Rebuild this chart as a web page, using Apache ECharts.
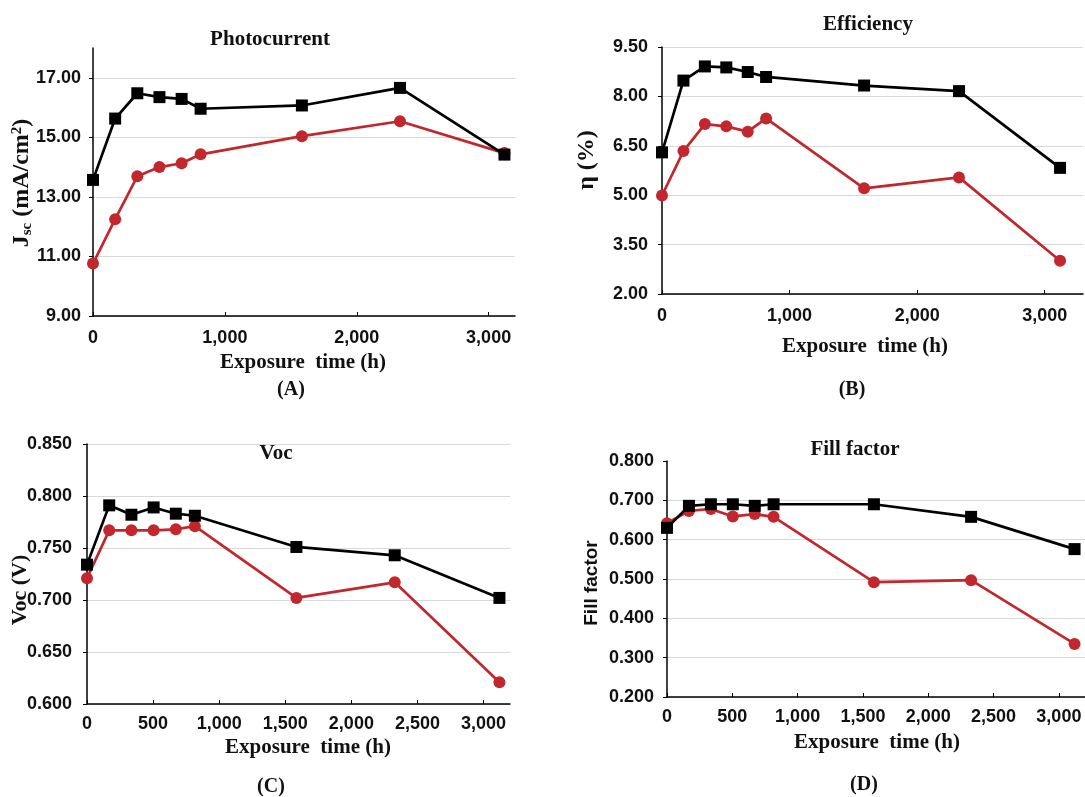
<!DOCTYPE html>
<html>
<head>
<meta charset="utf-8">
<script src="https://cdn.jsdelivr.net/npm/echarts@6/dist/echarts.min.js"></script>
<style>
html,body{margin:0;padding:0;background:#fff;}
#main{width:1085px;height:797px;}
</style>
</head>
<body>
<div id="main"></div>
<script>
// Exposure time (h)
const hours = [0, 168, 336, 504, 672, 816, 1584, 2328, 3120];

// (A) Photocurrent Jsc (mA/cm2)
const jscBlack = [13.57, 15.63, 16.48, 16.35, 16.29, 15.96, 16.07, 16.66, 14.42];
const jscRed   = [10.76, 12.25, 13.69, 14.00, 14.13, 14.43, 15.04, 15.54, 14.47];

// (B) Efficiency eta (%)
const effBlack = [6.30, 8.48, 8.91, 8.88, 8.74, 8.59, 8.33, 8.16, 5.83];
const effRed   = [4.99, 6.34, 7.16, 7.09, 6.93, 7.33, 5.21, 5.54, 3.01];

// (C) Voc (V)
const vocBlack = [0.734, 0.791, 0.782, 0.789, 0.783, 0.781, 0.751, 0.743, 0.702];
const vocRed   = [0.721, 0.767, 0.767, 0.767, 0.768, 0.771, 0.702, 0.717, 0.621];

// (D) Fill factor
const ffBlack = [0.630, 0.686, 0.690, 0.690, 0.686, 0.690, 0.690, 0.658, 0.576];
const ffRed   = [0.642, 0.673, 0.678, 0.659, 0.665, 0.658, 0.492, 0.497, 0.335];

const titles = ['Photocurrent', 'Efficiency', 'Voc', 'Fill factor'];
const panelLabels = ['(A)', '(B)', '(C)', '(D)'];
const xName = 'Exposure  time (h)';

const RED = '#c1272d';
const BLACK = '#000000';
const SERIF = '"Liberation Serif", "Times New Roman", serif';
const SANS = '"Liberation Sans", Arial, sans-serif';

function pairs(xs, ys) { return xs.map((x, i) => [x, ys[i]]); }
function fmtThousands(v) { return v.toLocaleString('en-US'); }

const grids = [
  {left: 93, top: 48, width: 422, height: 268},
  {left: 662, top: 47, width: 421, height: 247},
  {left: 87, top: 444, width: 423, height: 260},
  {left: 667, top: 461, width: 419, height: 236}
];

const xCfg = [
  {max: 3200, interval: 1000, margin: 13},
  {max: 3300, interval: 1000, margin: 13},
  {max: 3200, interval: 500, margin: 11},
  {max: 3200, interval: 500, margin: 11}
];
const yCfg = [
  {min: 9, max: 18, interval: 2, dec: 2, showMaxLine: false, showMaxLabel: false, margin: 12},
  {min: 2, max: 9.5, interval: 1.5, dec: 2, showMaxLine: true, showMaxLabel: true, margin: 14},
  {min: 0.6, max: 0.85, interval: 0.05, dec: 3, showMaxLine: true, showMaxLabel: true, margin: 15},
  {min: 0.2, max: 0.8, interval: 0.1, dec: 3, showMaxLine: false, showMaxLabel: true, margin: 13}
];

const xAxes = xCfg.map((c, i) => ({
  type: 'value', gridIndex: i, min: 0, max: c.max, interval: c.interval,
  axisLine: {show: true, onZero: false, lineStyle: {color: '#000', width: 1.5}},
  axisTick: {show: true, inside: true, length: 4, lineStyle: {color: '#000', width: 1}},
  splitLine: {show: false},
  axisLabel: {
    show: true, margin: c.margin, showMaxLabel: false,
    fontFamily: SANS, fontWeight: 'bold', fontSize: 18, color: '#111',
    formatter: v => fmtThousands(v)
  }
}));

const yAxes = yCfg.map((c, i) => ({
  type: 'value', gridIndex: i, min: c.min, max: c.max, interval: c.interval,
  axisLine: {show: true, lineStyle: {color: '#000', width: 1.5}},
  axisTick: {show: true, inside: false, length: 4, lineStyle: {color: '#000', width: 1}},
  splitLine: {show: true, showMaxLine: c.showMaxLine, lineStyle: {color: '#d9d9d9', width: 1.2}},
  axisLabel: {
    show: true, margin: c.margin, showMaxLabel: c.showMaxLabel,
    fontFamily: SANS, fontWeight: 'bold', fontSize: 18, color: '#111',
    formatter: v => v.toFixed(c.dec)
  }
}));

const sets = [
  [jscRed, jscBlack], [effRed, effBlack], [vocRed, vocBlack], [ffRed, ffBlack]
];
const series = [];
sets.forEach((s, i) => {
  series.push({
    type: 'line', xAxisIndex: i, yAxisIndex: i, data: pairs(hours, s[0]),
    symbol: 'circle', symbolSize: 12, lineStyle: {color: RED, width: 2.7},
    itemStyle: {color: RED}, animation: false, z: 2
  });
  series.push({
    type: 'line', xAxisIndex: i, yAxisIndex: i, data: pairs(hours, s[1]),
    symbol: 'rect', symbolSize: 12, lineStyle: {color: BLACK, width: 2.7},
    itemStyle: {color: BLACK}, animation: false, z: 3
  });
});

function txt(text, x, y, font, extra) {
  return Object.assign({
    type: 'text', x: x, y: y, silent: true,
    style: {text: text, font: font, fill: '#111', align: 'center', verticalAlign: 'middle'}
  }, extra || {});
}

const titlePos = [[270, 40], [868, 25], [276, 454], [855, 450]];
const xNamePos = [[303, 363], [865, 347], [308, 748], [877, 743]];
const labelPos = [[291, 390], [852, 390], [271, 787], [864, 785]];

const graphics = [];
titles.forEach((t, i) => graphics.push(txt(t, titlePos[i][0], titlePos[i][1], 'bold 21px ' + SERIF)));
xNamePos.forEach(p => graphics.push(txt(xName, p[0], p[1], 'bold 21px ' + SERIF)));
panelLabels.forEach((t, i) => graphics.push(txt(t, labelPos[i][0], labelPos[i][1], 'bold 20px ' + SERIF)));

// Y-axis names (rotated)
graphics.push({
  type: 'text', x: 22, y: 183, rotation: Math.PI / 2, silent: true,
  style: {
    text: '{a|J}{s|sc}{a| (mA/cm}{p|2}{a|)}',
    align: 'center', verticalAlign: 'middle', fill: '#111',
    rich: {
      a: {font: 'bold 24px ' + SERIF, fill: '#111'},
      s: {font: 'bold 15px ' + SERIF, fill: '#111', padding: [10, 0, 0, 0]},
      p: {font: 'bold 15px ' + SERIF, fill: '#111', padding: [0, 0, 10, 0]}
    }
  }
});
graphics.push(txt('η (%)', 587, 160, 'bold 24px ' + SERIF, {rotation: Math.PI / 2}));
graphics.push(txt('Voc (V)', 20, 590, 'bold 22px ' + SERIF, {rotation: Math.PI / 2}));
graphics.push(txt('Fill factor', 592, 583, 'bold 19px ' + SANS, {rotation: Math.PI / 2}));

const chart = echarts.init(document.getElementById('main'), null, {renderer: 'canvas'});
chart.setOption({
  backgroundColor: '#ffffff',
  animation: false,
  grid: grids,
  xAxis: xAxes,
  yAxis: yAxes,
  series: series,
  graphic: graphics
});
</script>
</body>
</html>
